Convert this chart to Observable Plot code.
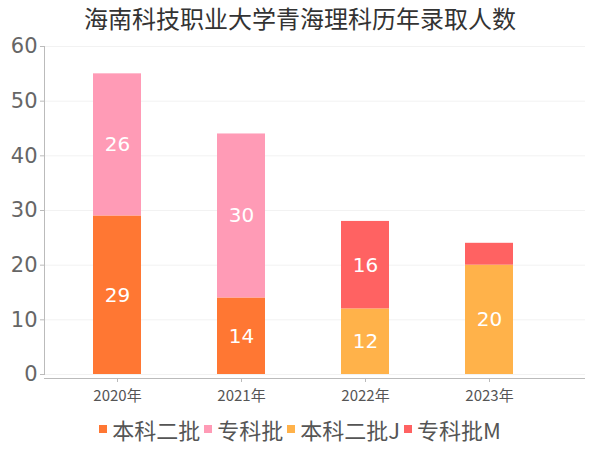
<!DOCTYPE html>
<html><head><meta charset="utf-8">
<script src="https://cdn.jsdelivr.net/npm/d3@7"></script>
<script src="https://cdn.jsdelivr.net/npm/@observablehq/plot@0.6"></script>
<style>
body{margin:0;background:#fff;width:600px;height:450px;overflow:hidden;font-family:"Noto Sans CJK SC","DejaVu Sans",sans-serif;}
#title{height:30px;line-height:36px;text-align:center;font-size:24px;color:#333;}
#legend{display:flex;justify-content:center;align-items:center;height:34px;font-size:22px;color:#555;margin-top:-4px;}
#legend span.item{display:flex;align-items:center;margin:0 2px;}
#legend span.sw{width:8px;height:8px;display:inline-block;margin-right:5px;}
</style></head>
<body>
<div id="title">海南科技职业大学青海理科历年录取人数</div>
<div id="chart"></div>
<div id="legend"></div>
<script>
const years = ["2020年","2021年","2022年","2023年"];
const seriesNames = ["本科二批","专科批","本科二批J","专科批M"];
const seriesColors = ["#ff7733","#ff9bb6","#ffb24a","#ff6262"];
const benke2 = [29,14,null,null];
const zhuanke = [26,30,null,null];
const benke2J = [null,null,12,20];
const zhuankeM = [null,null,16,4];
const yTicks = [0,10,20,30,40,50,60];

const seriesValues = [benke2, zhuanke, benke2J, zhuankeM];
const data = [];
years.forEach((yr,i)=>{
  seriesValues.forEach((vals,s)=>{
    if (vals[i] != null) data.push({year: yr, series: seriesNames[s], value: vals[i]});
  });
});

const plot = Plot.plot({
  width: 600,
  height: 386,
  marginTop: 16,
  marginBottom: 42,
  marginLeft: 44,
  marginRight: 15,
  style: {fontFamily: '"DejaVu Sans","Noto Sans CJK SC",sans-serif', background: "#fff", overflow: "visible"},
  x: {domain: years, range: [55, 552], paddingInner: 0.61, paddingOuter: 0.305, label: null},
  y: {domain: [0, 60], label: null},
  color: {domain: seriesNames, range: seriesColors},
  marks: [
    Plot.gridY(yTicks, {stroke: "#f2f2f2", strokeOpacity: 1}),
    Plot.frame({anchor: "left", stroke: "#bbb"}),
    Plot.ruleY([0], {dy: 4, stroke: "#bbb"}),
    Plot.axisY(yTicks, {tickSize: 4, tickPadding: 3, fontSize: 21, color: "#666", stroke: "#bbb", label: null}),
    Plot.axisX({tickSize: 4, dy: 4, tickFormat: () => "", stroke: "#bbb", label: null}),
    Plot.axisX({tickSize: 0, tickPadding: 16, fontSize: 15, color: "#555", fontFamily: '"Noto Sans CJK SC",sans-serif', label: null}),
    Plot.barY(data, {x: "year", y: "value", fill: "series", order: null}),
    Plot.text(data, Plot.stackY({x: "year", y: "value", order: null, text: d => d.value >= 5 ? String(d.value) : "", fill: "white", fontSize: 20}))
  ]
});
document.getElementById("chart").appendChild(plot);

const legend = document.getElementById("legend");
seriesNames.forEach((n,i)=>{
  const it = document.createElement("span"); it.className = "item";
  const sw = document.createElement("span"); sw.className = "sw"; sw.style.background = seriesColors[i];
  it.appendChild(sw);
  it.appendChild(document.createTextNode(n));
  legend.appendChild(it);
});
</script>
</body></html>
